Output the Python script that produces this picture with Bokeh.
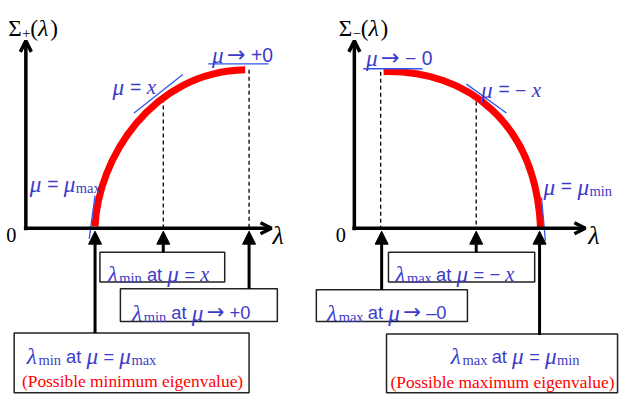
from bokeh.plotting import figure
from bokeh.models import Range1d, Arrow, NormalHead, OpenHead, ColumnDataSource
from bokeh.core.properties import value
from bokeh.embed import file_html
from bokeh.resources import INLINE

# ---------------- data (diagram coordinates, reference pixel space) ----------------
# Sigma_+ curve (cubic bezier: start, ctrl1, ctrl2, end)
plus_curve_x = [97, 100, 155, 251]
plus_curve_y = [235, 165, 74, 72]
# Sigma_- curve
minus_curve_x = [393, 480, 549, 554]
minus_curve_y = [74, 72, 128, 236]

# axes origins / extents
axes_x0 = [26, 363]
axes_x1 = [278, 600]
axis_y0 = 237
axis_top = 42

# dashed drop lines: x, top y
drop_x = [167, 255, 390, 488]
drop_top = [102, 72, 74, 105]

# tangent (blue) lines
tan_x0 = [97, 137, 213, 372, 478, 555]
tan_y0 = [203, 117, 66, 71, 87, 205]
tan_x1 = [91, 187, 275, 433, 519, 559]
tan_y1 = [248, 77, 66, 71, 117, 250]

# pointer arrows: x, tail y (box top)
ptr_x = [97, 167, 255, 391, 488, 553]
ptr_tail = [346, 262, 300, 301, 262, 348]

# boxes: left, right, top, bottom
box_l = [102, 123, 14, 398, 324, 396]
box_r = [230, 284, 255, 548, 479, 633]
box_t = [262, 300, 346, 262, 301, 347]
box_b = [293, 334, 408, 293, 334, 408]

BLUE = "#3c3cc8"
TBLUE = "#3355ee"
RED = "#ff0000"
SERIF = "Liberation Serif"
SANS = "Liberation Sans"
DSANS = "DejaVu Sans"

W, H = 619, 396
XS = 635 / W          # data units per screen px
FS = 0.965            # font scale to match the slightly shrunk canvas

p = figure(width=W, height=H, x_range=Range1d(0, 635), y_range=Range1d(412, 0),
           output_backend="svg", toolbar_location=None, min_border=0)
p.axis.visible = False
p.grid.visible = False
p.outline_line_color = None
p.background_fill_color = "white"
p.border_fill_color = "white"

# dashed drops
p.segment(x0=drop_x, y0=drop_top, x1=drop_x, y1=[axis_y0] * 4,
          line_color="black", line_width=1.3, line_dash="4 3")

# curves
p.bezier(x0=[plus_curve_x[0]], y0=[plus_curve_y[0]], cx0=[plus_curve_x[1]], cy0=[plus_curve_y[1]],
         cx1=[plus_curve_x[2]], cy1=[plus_curve_y[2]], x1=[plus_curve_x[3]], y1=[plus_curve_y[3]],
         line_color=RED, line_width=7)
p.bezier(x0=[minus_curve_x[0]], y0=[minus_curve_y[0]], cx0=[minus_curve_x[1]], cy0=[minus_curve_y[1]],
         cx1=[minus_curve_x[2]], cy1=[minus_curve_y[2]], x1=[minus_curve_x[3]], y1=[minus_curve_y[3]],
         line_color=RED, line_width=7)

# tangents
p.segment(x0=tan_x0, y0=tan_y0, x1=tan_x1, y1=tan_y1, line_color=TBLUE, line_width=1.3)

# axes with open arrowheads
ax_src = ColumnDataSource(dict(
    xs=[axes_x0[0], axes_x0[0] - 2, axes_x0[1], axes_x0[1] - 2],
    ys=[axis_y0 + 2, axis_y0, axis_y0 + 2, axis_y0],
    xe=[axes_x0[0], axes_x1[0], axes_x0[1], axes_x1[1]],
    ye=[axis_top, axis_y0, axis_top, axis_y0]))
p.add_layout(Arrow(source=ax_src, x_start="xs", y_start="ys", x_end="xe", y_end="ye",
                   line_width=3.5, line_color="black",
                   end=OpenHead(size=11, line_width=3.5, line_color="black")))

# pointer arrows
ptr_src = ColumnDataSource(dict(xs=ptr_x, ys=ptr_tail, xe=ptr_x, ye=[axis_y0 + 3] * 6))
p.add_layout(Arrow(source=ptr_src, x_start="xs", y_start="ys", x_end="xe", y_end="ye",
                   line_width=3, line_color="black",
                   end=NormalHead(size=13, fill_color="black", line_color="black", line_width=1)))

# boxes
p.quad(left=box_l, right=box_r, top=box_t, bottom=box_b,
       fill_color="white", line_color="#222222", line_width=1.5)

# ---------------- text layout ----------------
EM = {
    SERIF: {' ': .25, '(': .333, ')': .333, '+': .564, '=': .564, '0': .5, 'Σ': .6, 'λ': .5,
            'μ': .52, 'x': .444, 'm': .778, 'i': .278, 'n': .5, 'a': .444, '−': .564},
    SANS: {' ': .278, 'a': .556, 't': .278, '=': .584, '+': .584, '0': .556, '−': .584,
           '–': .556},
    DSANS: {' ': .318, '→': .838},
}


def tw(text, fam, size):
    return sum(EM[fam].get(c, .5) for c in text) * size


def label(x, y, segs, color, latin=19, greek=24, sub=15):
    cx = x
    for text, kind in segs:
        if kind == "gap":
            cx += float(text) * XS
            continue
        fam, fst, size, dy = {
            "G": (SERIF, "italic", greek, 0),
            "I": (SERIF, "italic", latin + 2, 0),
            "S": (SERIF, "normal", sub, 4),
            "P": (SERIF, "normal", sub, 5),
            "N": (SERIF, "normal", latin, 0),
            "A": (SANS, "normal", latin, 0),
            "R": (DSANS, "normal", latin + 3, -1),
        }[kind]
        size = size * FS
        core = text.strip(" ")
        lead = len(text) - len(text.lstrip(" "))
        trail = len(text) - len(text.rstrip(" "))
        sp = EM[fam][" "] * size
        cx += lead * sp * XS
        p.text(x=[cx], y=[y + dy], text=[core], text_font=value(fam), text_font_style=fst,
               text_font_size=f"{size:.1f}px", text_color=color, text_baseline="alphabetic",
               text_align="left")
        cx += (tw(core, fam, size) + trail * sp) * XS


# axis titles
label(8, 29, [("Σ", "N"), ("+", "P"), ("(", "N"), ("λ", "G"), (")", "N")], "black", 24, 25, 15)
label(347, 29, [("Σ", "N"), ("−", "P"), ("(", "N"), ("λ", "G"), (")", "N")], "black", 24, 25, 15)
label(279, 245, [("λ", "G")], "black", greek=27)
label(603, 245, [("λ", "G")], "black", greek=27)
label(6, 244, [("0", "N")], "black", 21)
label(344, 244, [("0", "N")], "black", 21)

# floating mu labels
label(30, 191, [("μ", "G"), (" = ", "A"), ("μ", "G"), ("max", "S")], BLUE, 20, 24, 15)
label(115, 90, [("μ", "G"), (" = ", "A"), ("x", "I")], BLUE, 20, 24)
label(217, 57, [("μ", "G"), ("3", "gap"), ("→", "R"), (" +0", "A")], BLUE, 20, 24)
label(375, 60, [("μ", "G"), ("3", "gap"), ("→", "R"), (" − ", "A"), ("0", "A")], BLUE, 20, 24)
label(493, 93, [("μ", "G"), (" = ", "A"), ("− ", "A"), ("x", "I")], BLUE, 20, 24)
label(557, 194, [("μ", "G"), (" = ", "A"), ("μ", "G"), ("min", "S")], BLUE, 20, 24, 15)

# box labels
label(110, 285, [("λ", "G"), ("min", "S"), (" at ", "A"), ("μ", "G"), (" = ", "A"), ("x", "I")], BLUE)
label(135, 325, [("λ", "G"), ("min", "S"), (" at ", "A"), ("μ", "G"), ("3", "gap"), ("→", "R"), (" +0", "A")], BLUE)
label(27, 370, [("λ", "G"), ("min", "S"), (" at ", "A"), ("μ", "G"), (" = ", "A"), ("μ", "G"), ("max", "S")], BLUE)
label(22, 396, [("(Possible minimum eigenvalue)", "N")], RED, 18)

label(405, 285, [("λ", "G"), ("max", "S"), (" at ", "A"), ("μ", "G"), (" = ", "A"), ("− ", "A"), ("x", "I")], BLUE)
label(335, 325, [("λ", "G"), ("max", "S"), (" at ", "A"), ("μ", "G"), ("3", "gap"), ("→", "R"), (" –0", "A")], BLUE)
label(462, 370, [("λ", "G"), ("max", "S"), (" at ", "A"), ("μ", "G"), (" = ", "A"), ("μ", "G"), ("min", "S")], BLUE)
label(400, 397, [("(Possible maximum eigenvalue)", "N")], RED, 18)

open("out.html", "w").write(file_html(p, INLINE))
